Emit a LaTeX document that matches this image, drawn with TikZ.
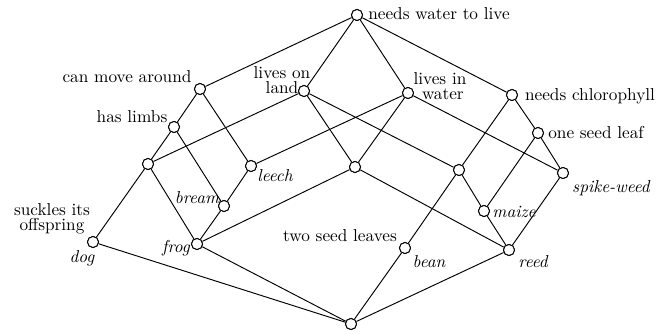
\documentclass[tikz,border=0pt]{standalone}
\begin{document}
\begin{tikzpicture}[x=0.58pt,y=-0.58pt,
  cn/.style={circle,draw,fill=white,inner sep=0pt,minimum size=6.4pt,line width=0.55pt},
  lb/.style={inner sep=0pt,font=\fontsize{10}{9}\selectfont,align=center},
  ob/.style={inner sep=0pt,font=\fontsize{10}{9}\selectfont\itshape},
  ln/.style={line width=0.55pt}]
\useasboundingbox (0,0) rectangle (661,333);
% concept nodes
\node[cn] (T) at (357,15) {};
\node[cn] (M) at (200,89) {};
\node[cn] (L) at (304,91) {};
\node[cn] (W) at (408,93) {};
\node[cn] (C) at (512,95) {};
\node[cn] (H) at (174,127) {};
\node[cn] (O) at (538,133) {};
\node[cn] (A) at (148,164) {};
\node[cn] (Le) at (251,166) {};
\node[cn] (LW) at (355,167) {};
\node[cn] (LC) at (459,170) {};
\node[cn] (S) at (563,173) {};
\node[cn] (B) at (224,206) {};
\node[cn] (Mz) at (484,211) {};
\node[cn] (D) at (93,242) {};
\node[cn] (F) at (197,244) {};
\node[cn] (Be) at (405,248) {};
\node[cn] (R) at (509,250) {};
\node[cn] (Bot) at (351,324) {};
% edges
\draw[ln] (T) -- (M);
\draw[ln] (T) -- (L);
\draw[ln] (T) -- (W);
\draw[ln] (T) -- (C);
\draw[ln] (M) -- (H);
\draw[ln] (M) -- (Le);
\draw[ln] (L) -- (A);
\draw[ln] (L) -- (LW);
\draw[ln] (L) -- (LC);
\draw[ln] (W) -- (Le);
\draw[ln] (W) -- (LW);
\draw[ln] (W) -- (S);
\draw[ln] (C) -- (LC);
\draw[ln] (C) -- (O);
\draw[ln] (H) -- (A);
\draw[ln] (H) -- (B);
\draw[ln] (O) -- (Mz);
\draw[ln] (O) -- (S);
\draw[ln] (A) -- (D);
\draw[ln] (A) -- (F);
\draw[ln] (Le) -- (B);
\draw[ln] (LW) -- (F);
\draw[ln] (LW) -- (R);
\draw[ln] (LC) -- (Be);
\draw[ln] (LC) -- (Mz);
\draw[ln] (S) -- (R);
\draw[ln] (B) -- (F);
\draw[ln] (Mz) -- (R);
\draw[ln] (D) -- (Bot);
\draw[ln] (F) -- (Bot);
\draw[ln] (Be) -- (Bot);
\draw[ln] (R) -- (Bot);
% redraw circles on top
\foreach \n in {T,M,L,W,C,H,O,A,Le,LW,LC,S,B,Mz,D,F,Be,R,Bot}{\node[cn] at (\n) {};}
% attribute labels
\node[lb] (tT) at (439,14) {needs water to live};
\node[lb] (tM) at (127,77) {can move around};
\node[lb] (tL) at (282,80) {lives on\\land};
\node[lb] (tW) at (440,86) {lives in\\ \ water};
\node[lb] (tC) at (590,96) {needs chlorophyll};
\node[lb] (tH) at (132,117) {has limbs};
\node[lb] (tO) at (596,133) {one seed leaf};
\node[lb] (tD1) at (52,219) {suckles its\\offspring};
\node[lb] (tBe1) at (340,236) {two seed leaves};
% object labels
\node[ob] (oLe) at (275,176) {leech};
\node[ob] (oB) at (197,198) {bream};
\node[ob] (oD) at (82,258) {dog};
\node[ob] (oF) at (176,248) {frog};
\node[ob] (oBe) at (429,262) {bean};
\node[ob] (oR) at (533,262) {reed};
\node[ob] (oMz) at (514,212) {maize};
\node[ob] (oS) at (611,188) {spike-weed};
\end{tikzpicture}
\end{document}
